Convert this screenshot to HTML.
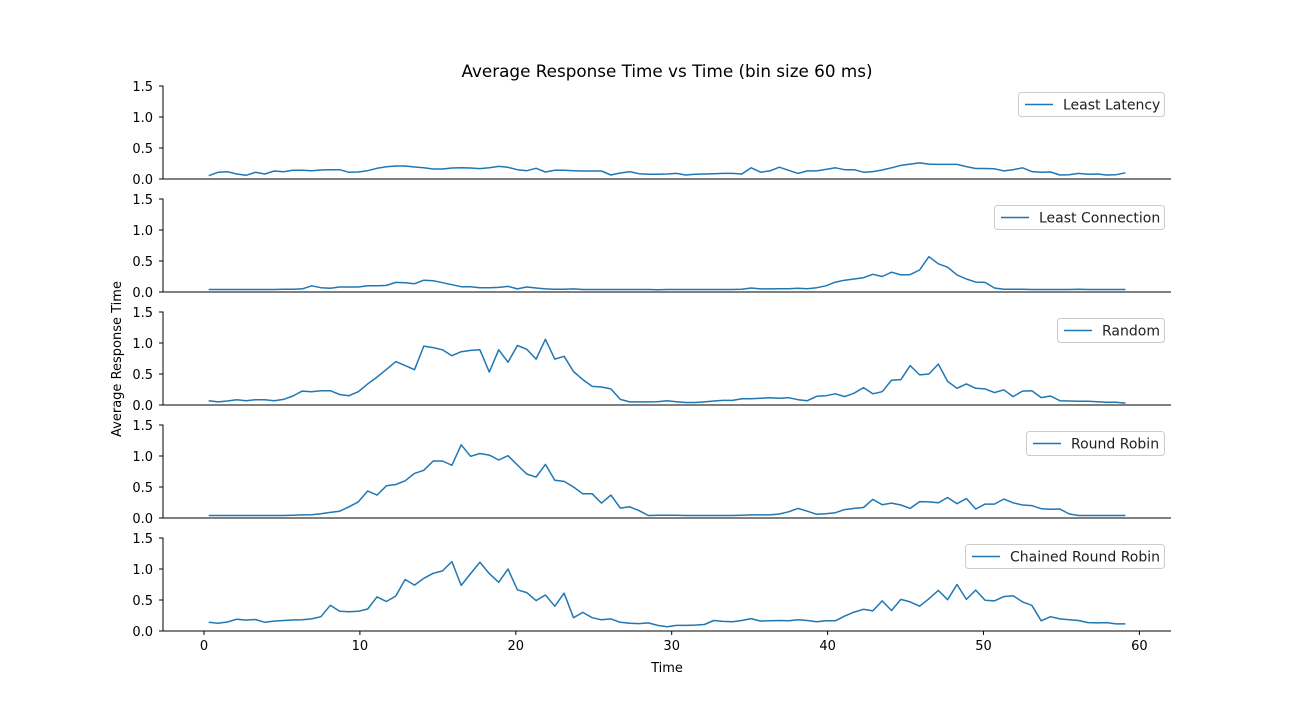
<!DOCTYPE html>
<html><head><meta charset="utf-8"><style>
body{margin:0;background:#fff;}
svg{display:block;font-family:"DejaVu Sans","Liberation Sans",sans-serif;}
</style></head><body>
<svg id="chart" width="1301" height="710" viewBox="0 0 1301 710">
<rect width="1301" height="710" fill="#fff"/>
<text x="667" y="77" text-anchor="middle" font-size="16.8">Average Response Time vs Time (bin size 60 ms)</text>
<text transform="translate(121,359) rotate(-90)" text-anchor="middle" font-size="13">Average Response Time</text>
<text x="667" y="672" text-anchor="middle" font-size="13">Time</text>
<g id="panels"></g>
</svg>
<script>
const seriesNames = ["Least Latency","Least Connection","Random","Round Robin","Chained Round Robin"];
const binTimes = [];
for (let i = 0; i < 99; i++) binTimes.push(0.3 + 0.6 * i);
const leastLatency = [.054,.108,.118,.081,.059,.108,.081,.129,.118,.14,
.14,.134,.145,.15,.15,.108,.113,.134,.172,.199,
.21,.21,.194,.183,.161,.161,.177,.183,.177,.167,
.183,.204,.188,.15,.134,.172,.113,.14,.14,.134,
.129,.129,.129,.065,.097,.118,.086,.075,.075,.081,
.09,.065,.075,.081,.086,.09,.09,.081,.18,.11,
.13,.19,.14,.09,.13,.13,.155,.18,.15,.15,
.11,.12,.145,.18,.22,.24,.26,.24,.235,.235,
.235,.2,.17,.17,.165,.13,.15,.18,.12,.11,
.113,.065,.07,.09,.075,.08,.065,.07,.1];
const leastConnection = [.04,.04,.04,.04,.04,.04,.04,.04,.043,.043,
.05,.1,.07,.06,.08,.08,.08,.1,.1,.107,
.155,.15,.134,.19,.183,.15,.118,.086,.086,.07,
.07,.075,.09,.05,.08,.065,.05,.043,.043,.05,
.04,.04,.04,.04,.04,.04,.04,.04,.035,.04,
.04,.04,.04,.04,.04,.04,.04,.043,.065,.05,
.05,.054,.054,.06,.054,.07,.1,.16,.19,.21,
.23,.285,.25,.32,.275,.28,.355,.57,.455,.4,
.275,.21,.16,.155,.065,.043,.043,.043,.04,.04,
.04,.04,.04,.043,.04,.04,.04,.04,.04];
const randomLb = [.07,.05,.065,.086,.07,.086,.086,.07,.091,.145,
.225,.215,.23,.23,.17,.15,.215,.34,.45,.575,
.7,.635,.57,.95,.925,.89,.795,.86,.88,.89,
.53,.89,.69,.96,.9,.74,1.06,.74,.785,.54,
.41,.3,.29,.26,.09,.05,.05,.05,.054,.07,
.054,.04,.04,.05,.065,.075,.075,.1,.1,.11,
.118,.108,.118,.086,.07,.14,.15,.18,.135,.19,
.28,.18,.215,.4,.41,.635,.485,.5,.66,.38,
.27,.34,.27,.26,.2,.245,.135,.225,.23,.12,
.145,.07,.065,.06,.06,.054,.043,.043,.03];
const roundRobin = [.04,.04,.04,.04,.04,.04,.04,.04,.04,.043,
.05,.054,.07,.09,.11,.18,.26,.435,.37,.52,
.54,.6,.72,.77,.92,.92,.85,1.18,.995,1.04,
1.015,.935,1.005,.855,.71,.66,.865,.61,.59,.5,
.39,.39,.24,.37,.16,.18,.12,.04,.043,.043,
.043,.04,.04,.04,.04,.04,.04,.043,.05,.05,
.05,.065,.1,.155,.11,.06,.07,.085,.135,.155,
.17,.3,.215,.24,.21,.155,.265,.26,.245,.33,
.23,.315,.145,.225,.225,.305,.245,.21,.2,.15,
.14,.145,.065,.04,.04,.04,.04,.04,.04];
const chainedRoundRobin = [.14,.125,.145,.19,.175,.185,.14,.16,.17,.177,
.18,.195,.23,.415,.32,.31,.317,.355,.55,.475,
.565,.83,.74,.85,.93,.97,1.12,.735,.925,1.11,
.925,.785,1.0,.665,.62,.49,.58,.4,.61,.215,
.3,.215,.18,.195,.14,.125,.12,.13,.09,.07,
.09,.09,.095,.105,.17,.155,.15,.17,.2,.16,
.165,.17,.165,.18,.17,.15,.165,.165,.24,.305,
.35,.325,.485,.33,.51,.47,.4,.52,.655,.505,
.75,.51,.66,.495,.485,.555,.57,.47,.415,.165,
.23,.195,.18,.17,.135,.13,.135,.115,.115];
const yTickLabels = ["0.0","0.5","1.0","1.5"];
const yTickValues = [0,0.5,1,1.5];
const xTickValues = [0,10,20,30,40,50,60];

const allSeries = [leastLatency,leastConnection,randomLb,roundRobin,chainedRoundRobin];
const NS = "http://www.w3.org/2000/svg";
const panelBottoms = [179,292,405,518,631];
const panelH = 93, axL = 163, axR = 1171;
const legendW = [146,170,107,138,199];
const xScale = t => 204 + t * 15.59;
function mk(tag, attrs, parent){const e=document.createElementNS(NS,tag);for(const k in attrs)e.setAttribute(k,attrs[k]);parent.appendChild(e);return e;}
const root = document.getElementById("panels");
allSeries.forEach((vals, p) => {
  const y0 = panelBottoms[p];
  const yScale = v => y0 - v / 1.5 * panelH;
  const g = mk("g", {}, root);
  
  
  mk("line",{x1:axL,y1:y0-panelH-0.5,x2:axL,y2:y0,stroke:"#000","stroke-width":1},g);
  mk("line",{x1:axL,y1:y0,x2:axR,y2:y0,stroke:"#000","stroke-width":1},g);
  yTickValues.forEach((v,i)=>{
    const y=yScale(v);
    mk("line",{x1:axL-4,y1:y,x2:axL,y2:y,stroke:"#000","stroke-width":1},g);
    const t=mk("text",{x:axL-10,y:y+5,"text-anchor":"end","font-size":"13"},g);
    t.textContent=yTickLabels[i];
    
    
  });
  const pts = vals.map((v,i)=>xScale(binTimes[i]).toFixed(1)+","+yScale(v).toFixed(1)).join(" ");
  const line = mk("polyline",{points:pts,fill:"none",stroke:"#1f77b4","stroke-width":1.5,"stroke-linejoin":"round"},g);
  
  
  const lw = legendW[p], lx = 1164 - lw, ly = y0 - panelH + 6;
  const lg = mk("g",{},g);
  
  
  mk("rect",{x:lx+0.5,y:ly+0.5,width:lw,height:24,rx:3,fill:"#fff",stroke:"#ccc","stroke-width":1},lg);
  mk("line",{x1:lx+7,y1:ly+12.5,x2:lx+35,y2:ly+12.5,stroke:"#1f77b4","stroke-width":1.5},lg);
  const lt = mk("text",{x:lx+45,y:ly+17.5,"font-size":"14",fill:"#222"},lg);
  lt.textContent = seriesNames[p];
  if (p === 4) {
    xTickValues.forEach(v=>{
      const x=xScale(v);
      mk("line",{x1:x,y1:y0,x2:x,y2:y0+4,stroke:"#000","stroke-width":1},g);
      const t=mk("text",{x:x,y:y0+19,"text-anchor":"middle","font-size":"13"},g);
      t.textContent=String(v);
      
      
    });
  }
});
</script>
</body></html>
